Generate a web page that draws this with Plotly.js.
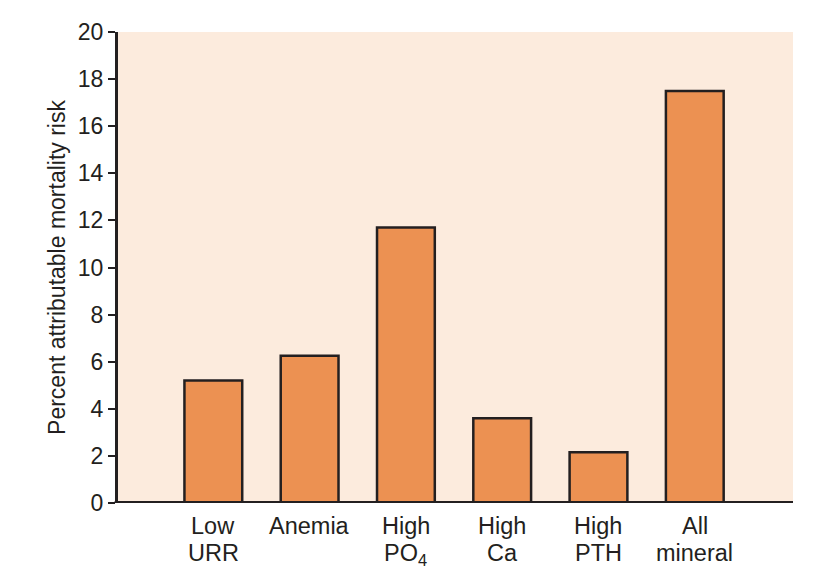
<!DOCTYPE html>
<html>
<head>
<meta charset="utf-8">
<script src="https://cdn.plot.ly/plotly-3.0.1.min.js"></script>
<style>html,body{margin:0;padding:0;background:#fff;}</style>
</head>
<body>
<div id="chart" style="width:821px;height:581px;"></div>
<script>
const categories = ["Low<br>URR", "Anemia", "High<br>PO<sub>4</sub>", "High<br>Ca", "High<br>PTH", "All<br>mineral"];
const values = [5.2, 6.25, 11.7, 3.6, 2.15, 17.5];
const yTicks = [0, 2, 4, 6, 8, 10, 12, 14, 16, 18, 20];

const trace = {
  type: "bar",
  x: categories.map((c, i) => i),
  y: values,
  width: 0.6,
  marker: {color: "#ec9152", line: {color: "#231f20", width: 2.5}},
  hoverinfo: "skip"
};

const labelFont = {family: "Liberation Sans, Arial, sans-serif", size: 23.5, color: "#231f20"};
const annotations = [];
categories.forEach((c, i) => {
  c.split("<br>").forEach((line, j) => {
    annotations.push({
      x: i, xref: "x", y: 0, yref: "paper",
      text: line, showarrow: false, font: labelFont,
      xanchor: "center", yanchor: "top", yshift: -8 - 26.5 * j
    });
  });
});

const layout = {
  width: 821, height: 581,
  margin: {l: 118, r: 28, t: 32, b: 78},
  paper_bgcolor: "#ffffff",
  plot_bgcolor: "#fcebdd",
  showlegend: false,
  font: {family: "Liberation Sans, Arial, sans-serif", color: "#231f20"},
  annotations: annotations,
  xaxis: {
    range: [-0.99, 6.02],
    tickmode: "array",
    tickvals: categories.map((c, i) => i),
    showticklabels: false,
    ticks: "",
    showgrid: false,
    zeroline: false,
    showline: false,
    fixedrange: true
  },
  yaxis: {
    range: [0, 20],
    tickmode: "array",
    tickvals: yTicks,
    ticktext: yTicks.map(String),
    ticks: "outside",
    ticklen: 7,
    tickwidth: 2,
    tickcolor: "#231f20",
    showgrid: false,
    zeroline: false,
    showline: true,
    linewidth: 3,
    linecolor: "#231f20",
    tickfont: {size: 23, color: "#231f20"},
    title: {text: "Percent attributable mortality risk", font: {size: 23, color: "#231f20"}, standoff: 6},
    fixedrange: true
  },
  shapes: [
    {type: "line", xref: "paper", yref: "y", x0: -0.005, x1: 1, y0: 0, y1: 0, line: {color: "#231f20", width: 4}}
  ]
};

Plotly.newPlot("chart", [trace], layout, {displayModeBar: false, staticPlot: true});
</script>
</body>
</html>
